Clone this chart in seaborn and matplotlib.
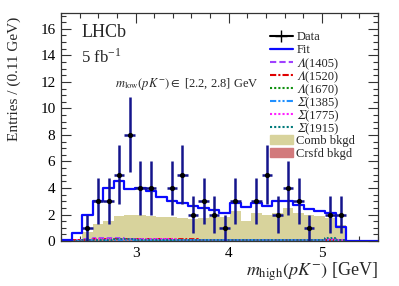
"""
Invariant-mass projection of m_high(pK-) with fit components (LHCb style).
"""

import matplotlib

matplotlib.use("Agg")
import matplotlib.pyplot as plt
import numpy as np
import pandas as pd
import seaborn as sns
from matplotlib.lines import Line2D
from matplotlib.patches import Patch
from matplotlib.ticker import MultipleLocator

# binning of m_high(pK-) [GeV]
x_min, x_max, n_bins = 2.2, 5.6, 30

# values, one entry per bin
data_counts = [0, 0, 1, 3, 3, 5, 8, 4, 4, 0, 4, 5, 2, 3, 2,
               1, 3, 0, 3, 5, 2, 4, 3, 1, 0, 2, 2, 0, 0, 0]
fit_total = [0.1, 0.6, 2.0, 3.0, 4.0, 4.5, 3.9, 4.0, 3.8, 3.3, 3.0, 2.9, 2.65, 2.5, 2.35,
             2.15, 2.9, 2.6, 2.9, 2.65, 3.0, 3.0, 2.7, 2.45, 2.3, 2.15, 1.1, 0, 0, 0]
comb_bkgd = [0, 0, 0.65, 1.3, 1.5, 1.9, 2.0, 1.95, 1.9, 1.85, 1.8, 1.75, 1.7, 1.75, 1.8,
             1.8, 2.3, 1.5, 2.1, 2.0, 2.1, 2.5, 2.1, 2.0, 1.9, 1.75, 1.25, 0, 0, 0]
crsfd_bkgd = [0, 0, 0.08, 0.10, 0.12, 0.12, 0.11, 0.10, 0.10, 0.09, 0.09, 0.08, 0.08, 0.08, 0.07,
              0.07, 0.07, 0.06, 0.06, 0.06, 0.06, 0.05, 0.05, 0.05, 0.05, 0.04, 0.04, 0, 0, 0]
lambda_1405 = [0.02, 0.08, 0.14, 0.20, 0.22, 0.20, 0.18, 0.16, 0.15, 0.14, 0.12, 0.12, 0.11, 0.10, 0.10,
               0.09, 0.09, 0.08, 0.08, 0.08, 0.07, 0.07, 0.07, 0.06, 0.06, 0.05, 0.03, 0, 0, 0]
lambda_1520 = [0.01, 0.05, 0.10, 0.14, 0.16, 0.17, 0.16, 0.15, 0.15, 0.14, 0.14, 0.13, 0.13, 0.12, 0.12,
               0.11, 0.12, 0.11, 0.11, 0.10, 0.10, 0.10, 0.10, 0.09, 0.10, 0.12, 0.06, 0, 0, 0]
lambda_1670 = [0.01, 0.04, 0.08, 0.11, 0.13, 0.14, 0.14, 0.13, 0.13, 0.12, 0.12, 0.11, 0.11, 0.10, 0.10,
               0.10, 0.10, 0.09, 0.09, 0.09, 0.09, 0.08, 0.08, 0.08, 0.09, 0.15, 0.08, 0, 0, 0]
sigma_1385 = [0.01, 0.03, 0.06, 0.09, 0.10, 0.11, 0.11, 0.10, 0.10, 0.10, 0.09, 0.09, 0.09, 0.08, 0.08,
              0.08, 0.08, 0.07, 0.07, 0.07, 0.07, 0.07, 0.06, 0.06, 0.07, 0.10, 0.05, 0, 0, 0]
sigma_1775 = [0.01, 0.04, 0.09, 0.13, 0.15, 0.16, 0.15, 0.14, 0.14, 0.13, 0.13, 0.12, 0.12, 0.11, 0.11,
              0.11, 0.11, 0.10, 0.10, 0.10, 0.09, 0.09, 0.09, 0.09, 0.10, 0.16, 0.09, 0, 0, 0]
sigma_1915 = [0.01, 0.03, 0.07, 0.10, 0.12, 0.13, 0.13, 0.12, 0.12, 0.11, 0.11, 0.11, 0.10, 0.10, 0.10,
              0.09, 0.09, 0.09, 0.09, 0.08, 0.08, 0.08, 0.08, 0.08, 0.10, 0.22, 0.12, 0, 0, 0]

# italic capital Greek (mathematical italic code points)
component_labels = ["\U0001D6EC(1405)", "\U0001D6EC(1520)", "\U0001D6EC(1670)",
                    "\U0001D6F4(1385)", "\U0001D6F4(1775)", "\U0001D6F4(1915)"]
component_colors = ["#a040ff", "#e00000", "#109010", "#2090ff", "#ff20ff", "#007a7a"]
component_styles = [(0, (3, 1.5)), (0, (3, 1, 1, 1)), (0, (1, 1)),
                    (0, (3, 1, 1, 1, 1, 1)), (0, (1, 1)), (0, (1, 1))]
components = [lambda_1405, lambda_1520, lambda_1670, sigma_1385, sigma_1775, sigma_1915]

edges = np.linspace(x_min, x_max, n_bins + 1)
centers = 0.5 * (edges[:-1] + edges[1:])
half_width = 0.5 * (edges[1] - edges[0])

df = pd.DataFrame({
    "mass": centers,
    "data": np.array(data_counts, dtype=float),
    "fit": fit_total,
    "comb": comb_bkgd,
    "crsfd": crsfd_bkgd,
})
component_columns = []
for i, values in enumerate(components):
    df[f"comp{i}"] = values
    component_columns.append(f"comp{i}")

sns.set_theme(style="ticks")
plt.rcParams["font.family"] = ["Liberation Serif", "STIXGeneral", "DejaVu Serif"]
plt.rcParams["mathtext.fontset"] = "stix"

fig = plt.figure(figsize=(3.99, 2.86), dpi=100)
ax = fig.add_axes([0.153, 0.157, 0.794, 0.798])

hist_kws = dict(data=df, x="mass", bins=n_bins, binrange=(x_min, x_max), element="step", ax=ax)
comb_color = "#d8d39c"
crsfd_color = "#d27a7c"
sns.histplot(weights="comb", fill=True, color=comb_color, alpha=1, linewidth=0, **hist_kws)
sns.histplot(weights="crsfd", fill=True, color=crsfd_color, alpha=1, linewidth=0, **hist_kws)
for column, color, style in zip(component_columns, component_colors, component_styles):
    sns.histplot(weights=column, fill=False, color=color, linestyle=style, linewidth=1.3, **hist_kws)
sns.histplot(weights="fit", fill=False, color="#0a0aff", linewidth=1.6, **hist_kws)

points = df[df["data"] > 0]
ax.errorbar(points["mass"], points["data"], yerr=np.sqrt(points["data"]),
            xerr=half_width, fmt="none", ecolor="#14148c", elinewidth=1.8, capsize=0)
sns.scatterplot(data=points, x="mass", y="data", color="black", s=14,
                linewidth=0, ax=ax, zorder=5)

ax.set_xlim(x_min, x_max)
ax.set_ylim(0, 17.2)
ax.xaxis.set_major_locator(MultipleLocator(1))
ax.xaxis.set_minor_locator(MultipleLocator(0.2))
ax.yaxis.set_major_locator(MultipleLocator(2))
ax.yaxis.set_minor_locator(MultipleLocator(0.5))
ax.tick_params(which="both", direction="in", top=True, right=True, width=0.8,
               colors="#333333", labelcolor="black", labelsize=11)
ax.tick_params(which="major", length=7, pad=4)
ax.tick_params(which="minor", length=3.5)
for spine in ax.spines.values():
    spine.set_linewidth(0.9)
    spine.set_color("#333333")

ax.set_xlabel(r"$m_{\mathrm{high}}(pK^{-})$ [GeV]", fontsize=13, loc="right")
ax.xaxis.set_label_coords(1.0, -0.085)
ax.set_ylabel("Entries / (0.11 GeV)", fontsize=11, loc="top")
ax.yaxis.set_label_coords(-0.125, 0.985)

ax.text(0.064, 0.915, "LHCb", transform=ax.transAxes, fontsize=13, va="center")
ax.text(0.064, 0.805, r"5 fb$^{\mathregular{-1}}$", transform=ax.transAxes, fontsize=12, va="center")
ax.text(0.17, 0.69, r"$m_{\mathrm{low}}(pK^{-}) \in$ [2.2, 2.8] GeV", transform=ax.transAxes,
        fontsize=9, va="center")

handles = [Line2D([], [], color="black", marker="+", markersize=8, linewidth=1.5),
           Line2D([], [], color="#0a0aff", linewidth=1.6)]
handles += [Line2D([], [], color=c, linestyle=s, linewidth=1.5)
            for c, s in zip(component_colors, component_styles)]
handles += [Patch(color=comb_color), Patch(color=crsfd_color)]
labels = ["Data", "Fit"] + component_labels + ["Comb bkgd", "Crsfd bkgd"]
ax.legend(handles, labels, loc="upper left", bbox_to_anchor=(0.66, 0.92), frameon=False,
          fontsize=9, borderpad=0, borderaxespad=0, handlelength=1.8, handletextpad=0.3,
          labelspacing=0.08)

fig.savefig("out.png", dpi=100)
